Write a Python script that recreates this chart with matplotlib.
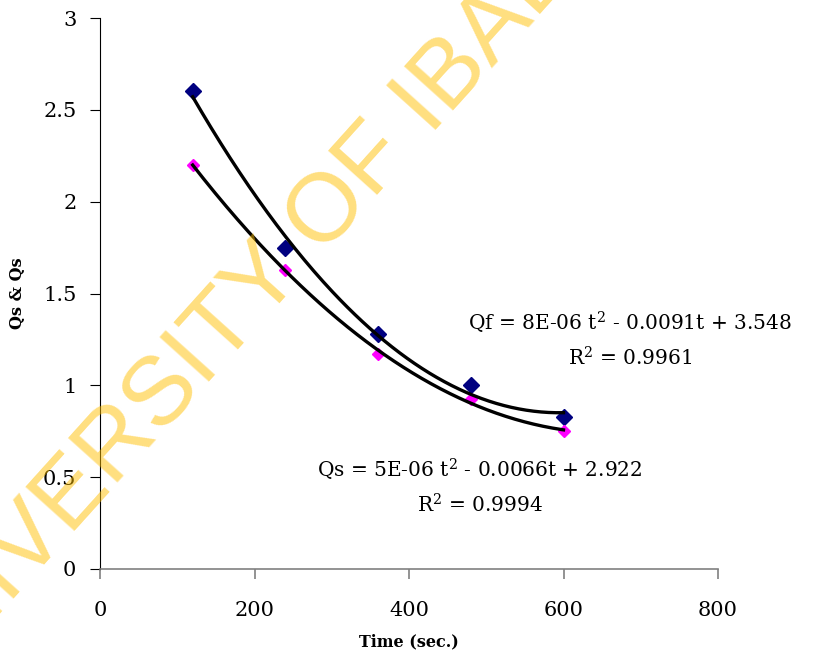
import numpy as np
import matplotlib
matplotlib.use("Agg")
import matplotlib.pyplot as plt

plt.rcParams['font.family'] = 'DejaVu Serif'
plt.rcParams['mathtext.fontset'] = 'dejavuserif'

# data
time_s = [120, 240, 360, 480, 600]
qf = [2.60, 1.75, 1.28, 1.00, 0.825]
qs = [2.20, 1.63, 1.17, 0.925, 0.75]

x_ticks = [0, 200, 400, 600, 800]
y_ticks = [0, 0.5, 1, 1.5, 2, 2.5, 3]
y_labels = ['0', '0.5', '1', '1.5', '2', '2.5', '3']

qf_eq = "Qf = 8E-06 t$^2$ - 0.0091t + 3.548"
qf_r2 = "R$^2$ = 0.9961"
qs_eq = "Qs = 5E-06 t$^2$ - 0.0066t + 2.922"
qs_r2 = "R$^2$ = 0.9994"

fig = plt.figure(figsize=(8.16, 6.6), dpi=100)
ax = fig.add_axes([100/816, 1 - 569/660, 618/816, 551/660])

ax.plot(time_s, qf, linestyle='none', marker='D', color='#000080', markersize=8.5, zorder=2)
ax.plot(time_s, qs, linestyle='none', marker='D', color='#FF00FF', markersize=6, zorder=2)

# 2nd order polynomial trend lines
tt = np.linspace(time_s[0], time_s[-1], 200)
for series in (qf, qs):
    coef = np.polyfit(time_s, series, 2)
    ax.plot(tt, np.polyval(coef, tt), color='black', linewidth=2.4, zorder=3)

ax.set_xlim(0, 800)
ax.set_ylim(0, 3)
ax.set_xticks(x_ticks)
ax.set_yticks(y_ticks)
ax.set_yticklabels(y_labels)

for s in ('top', 'right'):
    ax.spines[s].set_visible(False)
ax.spines['left'].set_color('black')
ax.spines['bottom'].set_color('#808080')
ax.spines['bottom'].set_linewidth(1.2)
ax.tick_params(axis='x', direction='out', length=7, color='#808080', width=1.2, labelsize=15, pad=16)
ax.tick_params(axis='y', direction='out', length=7, color='black', labelsize=15, pad=10)

ax.set_xlabel("Time (sec.)", fontsize=11.5, fontweight='bold', labelpad=10)
ax.set_ylabel("Qs & Qs", fontsize=11.5, fontweight='bold', labelpad=12)

ax.text(630/816, 1 - 323/660, qf_eq, transform=fig.transFigure, ha='center', va='center', fontsize=14.5)
ax.text(630/816, 1 - 358/660, qf_r2, transform=fig.transFigure, ha='center', va='center', fontsize=14.5)
ax.text(480/816, 1 - 470/660, qs_eq, transform=fig.transFigure, ha='center', va='center', fontsize=14.5)
ax.text(480/816, 1 - 505/660, qs_r2, transform=fig.transFigure, ha='center', va='center', fontsize=14.5)

# watermark
fig.text(275/816, 1 - 271/660, "UNIVERSITY OF IBADAN", family='Liberation Sans', fontsize=70,
         color='#FFBF00', alpha=0.5, rotation=48, rotation_mode='anchor',
         ha='center', va='center', zorder=10)

fig.savefig("out.png", dpi=100)
